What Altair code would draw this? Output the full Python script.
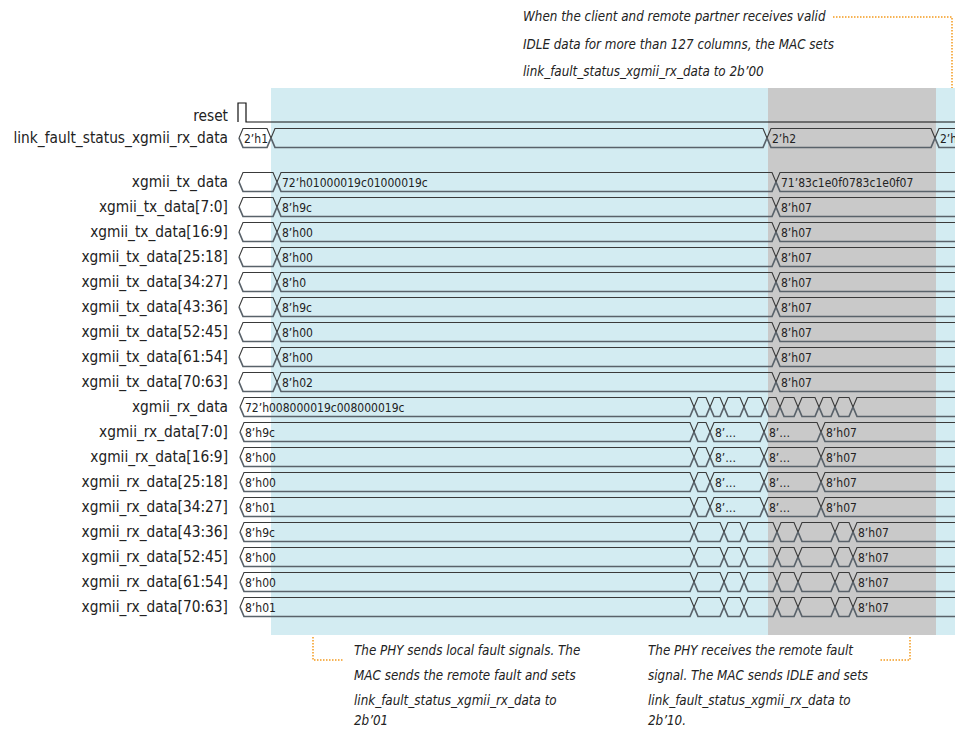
import altair as alt
import pandas as pd

# ---------------- data ----------------
FONT = "DejaVu Sans Condensed, Liberation Sans Narrow, sans-serif"

signal_names = [
    "reset", "link_fault_status_xgmii_rx_data",
    "xgmii_tx_data", "xgmii_tx_data[7:0]", "xgmii_tx_data[16:9]", "xgmii_tx_data[25:18]",
    "xgmii_tx_data[34:27]", "xgmii_tx_data[43:36]", "xgmii_tx_data[52:45]",
    "xgmii_tx_data[61:54]", "xgmii_tx_data[70:63]",
    "xgmii_rx_data", "xgmii_rx_data[7:0]", "xgmii_rx_data[16:9]", "xgmii_rx_data[25:18]",
    "xgmii_rx_data[34:27]", "xgmii_rx_data[43:36]", "xgmii_rx_data[52:45]",
    "xgmii_rx_data[61:54]", "xgmii_rx_data[70:63]",
]
# row (lane) of each signal; a blank gap sits between link_fault and tx_data
signal_lanes = [0.1, 1] + [2.76 + i for i in range(18)]

# reset waveform: edge times and levels after each edge
reset_times = [238, 246]
reset_levels = ["high", "low"]

# bus transitions (segment start times) and value labels
link_fault_times = [239, 271, 767, 935]
link_fault_values = ["2’h1", "", "2’h2", "2’h0"]

tx_times = [239, 277, 776]
tx_values_before = ["72’h01000019c01000019c", "8’h9c", "8’h00", "8’h00", "8’h0",
                    "8’h9c", "8’h00", "8’h00", "8’h02"]
tx_values_after = ["71’83c1e0f0783c1e0f07"] + ["8’h07"] * 8

rx_bus_times = [240, 694, 710, 724, 744, 765, 780, 798, 819, 835, 853]
rx_low_times = [240, 694, 710, 764, 821]            # rx[7:0] .. rx[34:27]
rx_high_times = [240, 694, 724, 744, 777, 798, 835, 853]  # rx[43:36] .. rx[70:63]
rx_values_first = ["72’h008000019c008000019c", "8’h9c", "8’h00", "8’h00", "8’h01",
                   "8’h9c", "8’h00", "8’h00", "8’h01"]

# shaded phases (time ranges)
phase_start = [271, 768, 936]
phase_end = [975, 936, 975]
phase_color = ["#d3ecf2", "#c9c9c9", "#d3ecf2"]

annotations = [
    ("When the client and remote partner receives valid", 523, 17),
    ("IDLE data for more than 127 columns, the MAC sets", 523, 45),
    ("link_fault_status_xgmii_rx_data to 2b’00", 523, 72),
    ("The PHY sends local fault signals. The", 354, 651),
    ("MAC sends the remote fault and sets", 354, 676),
    ("link_fault_status_xgmii_rx_data to", 354, 701),
    ("2b’01", 354, 721),
    ("The PHY receives the remote fault", 648, 651),
    ("signal. The MAC sends IDLE and sets", 648, 676),
    ("link_fault_status_xgmii_rx_data to", 648, 701),
    ("2b’10.", 648, 721),
]
leaders = [
    [(833, 17), (952, 17), (952, 88)],
    [(313, 637), (313, 660), (343, 660)],
    [(910, 637), (910, 660), (880, 660)],
]

# ---------------- geometry helpers ----------------
END = 975      # open-ended segments run past the right edge
D = 4.0        # half width of a transition X
H = 0.38       # half height of a bus, in lanes


def lane_of(py):
    return (py - 138) / 25 + 1


buses = [("link", 1, link_fault_times, link_fault_values)]
for i in range(9):
    buses.append((f"tx{i}", signal_lanes[2 + i], tx_times,
                  ["", tx_values_before[i], tx_values_after[i]]))
buses.append(("rx0", signal_lanes[11], rx_bus_times,
              [rx_values_first[0]] + [""] * (len(rx_bus_times) - 1)))
for i in range(1, 5):
    buses.append((f"rx{i}", signal_lanes[11 + i], rx_low_times,
                  [rx_values_first[i], "", "8’…", "8’…", "8’h07"]))
for i in range(5, 9):
    buses.append((f"rx{i}", signal_lanes[11 + i], rx_high_times,
                  [rx_values_first[i]] + [""] * (len(rx_high_times) - 2) + ["8’h07"]))

top_rows, bot_rows, label_rows = [], [], []
for name, lane, starts, labels in buses:
    for k, t0 in enumerate(starts):
        t1 = starts[k + 1] if k + 1 < len(starts) else END
        seg = f"{name}-{k}"
        open_end = k + 1 >= len(starts)
        for rows, sgn in ((top_rows, -1), (bot_rows, 1)):
            pts = [(t0, lane), (t0 + D, lane + sgn * H)]
            if open_end:
                pts.append((END, lane + sgn * H))
            else:
                pts += [(t1 - D, lane + sgn * H), (t1, lane)]
            for o, (x, y) in enumerate(pts):
                rows.append({"seg": seg, "o": o, "x": x, "y": y})
        if labels[k]:
            label_rows.append({"x": t0 + 5, "y": lane, "label": labels[k]})

top_df = pd.DataFrame(top_rows)
bot_df = pd.DataFrame(bot_rows)
lab_df = pd.DataFrame(label_rows)

# reset waveform
lvl = {"high": -0.4, "low": 0.36}
reset_pts = [(reset_times[0], lvl["low"])]
prev = "low"
for t, l in zip(reset_times, reset_levels):
    reset_pts.append((t, lvl[prev]))
    reset_pts.append((t, lvl[l]))
    prev = l
reset_pts.append((END, lvl[prev]))
reset_df = pd.DataFrame([{"o": i, "x": x, "y": y} for i, (x, y) in enumerate(reset_pts)])

names_df = pd.DataFrame({"name": signal_names, "y": signal_lanes, "x": 228})
phase_df = pd.DataFrame({"x": phase_start, "x2": phase_end,
                         "y": lane_of(88), "y2": lane_of(635), "c": phase_color})
ann_df = pd.DataFrame([{"text": t, "x": x, "y": lane_of(y)} for t, x, y in annotations])
lead_df = pd.DataFrame([{"g": g, "o": o, "x": x, "y": lane_of(y)}
                        for g, pts in enumerate(leaders) for o, (x, y) in enumerate(pts)])

# ---------------- chart ----------------
XS = alt.Scale(domain=[8, 955])
YS = alt.Scale(domain=[lane_of(8), lane_of(730)], reverse=True)
X = alt.X("x:Q", scale=XS, axis=None)
Y = alt.Y("y:Q", scale=YS, axis=None)

phases = alt.Chart(phase_df).mark_rect(clip=True).encode(
    x=X, x2="x2:Q", y=Y, y2="y2:Q", color=alt.Color("c:N", scale=None))

top_lines = alt.Chart(top_df).mark_line(color="#3a3a3a", strokeWidth=1.1, clip=True).encode(
    x=X, y=Y, detail="seg:N", order="o:Q")
bot_lines = alt.Chart(bot_df).mark_line(color="#59626a", strokeWidth=1.7, clip=True).encode(
    x=X, y=Y, detail="seg:N", order="o:Q")
reset_line = alt.Chart(reset_df).mark_line(color="#111111", strokeWidth=1.2, clip=True).encode(
    x=X, y=Y, order="o:Q")

values = alt.Chart(lab_df).mark_text(align="left", baseline="middle", font=FONT,
                                     fontSize=12, color="#222222", dy=1).encode(
    x=X, y=Y, text="label:N")
names = alt.Chart(names_df).mark_text(align="right", baseline="middle", font=FONT,
                                      fontSize=15.3, color="#222222").encode(
    x=X, y=Y, text="name:N")
leader_lines = alt.Chart(lead_df).mark_line(color="#f39a1e", strokeWidth=1.5,
                                            strokeDash=[1.5, 1.5]).encode(
    x=X, y=Y, detail="g:N", order="o:Q")
notes = alt.Chart(ann_df).mark_text(align="left", baseline="middle", font=FONT,
                                    fontSize=13.3, fontStyle="italic", color="#222222").encode(
    x=X, y=Y, text="text:N")

chart = alt.layer(phases, top_lines, bot_lines, reset_line, values, names,
                  leader_lines, notes).properties(
    width=947, height=722, padding=0, autosize=alt.AutoSizeParams(type="none")
).configure_view(strokeWidth=0)

chart.save("out.html", embed_options={"renderer": "svg", "actions": False})
